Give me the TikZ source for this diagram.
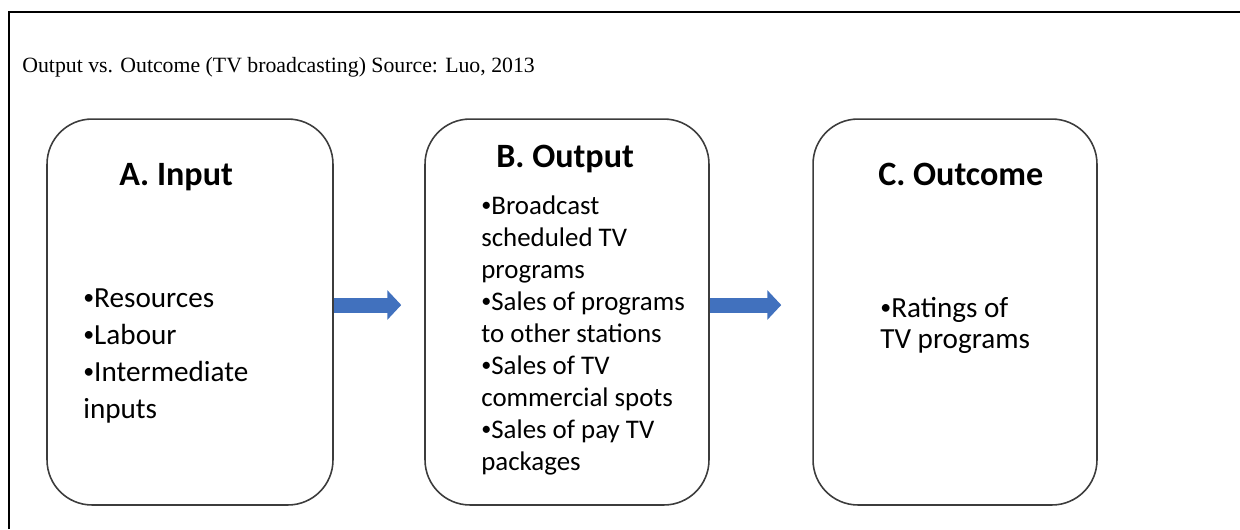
\documentclass[tikz,border=0pt]{standalone}
\usepackage{fontspec}
\setmainfont{Liberation Serif}
\newfontfamily\boxfont{Carlito}
\usepackage{graphicx}
\usepackage{xcolor}
\usetikzlibrary{arrows.meta}
\definecolor{arrowblue}{RGB}{65, 113, 190}
\definecolor{edgegr}{RGB}{60, 60, 60}
\newcommand{\bul}{\raisebox{0.1em}{\scalebox{0.75}{•}}}
\tikzset{
    stage/.style={draw=edgegr, line width=0.9pt, rounded corners=0.9cm, minimum height=7.72cm},
    flow/.style={arrowblue, line width=0.3cm, -{Triangle[length=0.28cm, width=0.58cm]}},
    head/.style={anchor=base west, inner sep=0pt, font=\boxfont\bfseries\fontsize{19.4}{23}\selectfont},
    items/.style={anchor=base west, inner sep=0pt, align=left}
}

\begin{document}
\begin{tikzpicture}[x=0.02cm, y=-0.02cm]
        \useasboundingbox (0,0) rectangle (1240,529);
        % frame
        \draw[line width=1.2pt] (9,529) -- (9,12) -- (1240,12);
        \node[anchor=base west, inner sep=0pt, font=\fontsize{12.4}{14}\selectfont] (title) at (22,72) {Output vs. Outcome (TV broadcasting) Source: Luo, 2013};
        % boxes
        \node[stage, minimum width=5.72cm] (input) at (190,312) {};
        \node[stage, minimum width=5.68cm] (output) at (567,312) {};
        \node[stage, minimum width=5.68cm] (outcome) at (955,312) {};
        \node[head] (inhead) at (119,185) {A. Input};
        \node[head] (outhead) at (496,167) {B. Output};
        \node[head] (ochead) at (878,185) {C. Outcome};
        % base anchor = last line
        \node[items, font=\boxfont\fontsize{16.6}{21}\selectfont] (initems) at (83,418) {\bul Resources\\\bul Labour\\\bul Intermediate\\inputs};
        \node[items, font=\boxfont\fontsize{15.3}{18.2}\selectfont] (outitems) at (481,470) {\bul Broadcast\\scheduled TV\\programs\\\bul Sales of programs\\to other stations\\\bul Sales of TV\\commercial spots\\\bul Sales of pay TV\\packages};
        \node[items, font=\boxfont\fontsize{16.6}{17.5}\selectfont] (ocitems) at (880,348) {\bul Ratings of\\TV programs};
        % arrows
        \draw[flow, shorten >=0.46cm] ([yshift=0.14cm]input.east) -- ([yshift=0.14cm]output.west);
        \draw[flow, shorten >=0.62cm] ([yshift=0.14cm]output.east) -- ([yshift=0.14cm]outcome.west);
    \end{tikzpicture}
\end{document}
